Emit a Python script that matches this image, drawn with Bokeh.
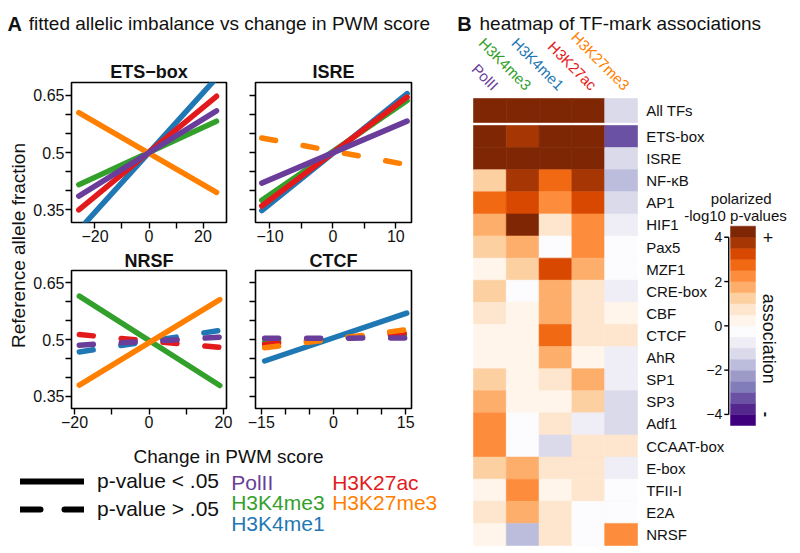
import numpy as np
from bokeh.plotting import figure
from bokeh.layouts import row, column
from bokeh.models import (Range1d, FixedTicker, CustomJSTickFormatter, ColumnDataSource, Legend, LegendItem)
from bokeh.transform import linear_cmap
from bokeh.core.properties import value
from bokeh.embed import file_html
from bokeh.resources import INLINE

FONT = "Liberation Sans"
INK = "#111111"

# ---------------- data ----------------
MARKS = ["PolII", "H3K4me3", "H3K4me1", "H3K27ac", "H3K27me3"]
MARK_COLORS = ["#6A3D9A", "#33A02C", "#1F78B4", "#E31A1C", "#FF7F00"]
DRAW_ORDER = [2, 1, 3, 4, 0]

Y_TICKS = [0.35, 0.5, 0.65]
Y_MINOR = [0.40, 0.45, 0.55, 0.60]
Y_RANGE = (0.317, 0.683)

PANEL_TITLES = ["ETS\u2212box", "ISRE", "NRSF", "CTCF"]

# fitted lines: x extent, value at start / end per mark, significance
ETS_X = [-26, 25]
ETS_START = [0.386, 0.416, 0.297, 0.350, 0.604]
ETS_END = [0.609, 0.582, 0.695, 0.647, 0.396]
ETS_SIG = [True, True, True, True, True]
ETS_XTICKS, ETS_XMINOR, ETS_XR = [-20, 0, 20], [-10, 10], (-28.7, 28.7)

ISRE_X = [-11.3, 11.8]
ISRE_START = [0.420, 0.375, 0.348, 0.360, 0.538]
ISRE_END = [0.582, 0.636, 0.654, 0.645, 0.468]
ISRE_SIG = [True, True, True, True, False]
ISRE_XTICKS, ISRE_XMINOR, ISRE_XR = [-10, 0, 10], [-5, 5], (-12.3, 12.5)

NRSF_X = [-18.7, 19.0]
NRSF_START = [0.485, 0.615, 0.467, 0.513, 0.379]
NRSF_END = [0.506, 0.378, 0.524, 0.479, 0.606]
NRSF_SIG = [False, True, False, False, True]
NRSF_XTICKS, NRSF_XMINOR, NRSF_XR = [-20, 0, 20], [-10, 10], (-20.8, 20.8)

CTCF_X = [-14.3, 15.2]
CTCF_START = [0.503, 0.493, 0.443, 0.487, 0.478]
CTCF_END = [0.504, 0.513, 0.570, 0.518, 0.526]
CTCF_SIG = [False, False, True, False, False]
CTCF_XTICKS, CTCF_XMINOR, CTCF_XR = [-15, 0, 15], [-10, -5, 5, 10], (-16.2, 16.2)

# heatmap
ROWS = ["All TFs", "ETS-box", "ISRE", "NF-κB", "AP1", "HIF1", "Pax5", "MZF1", "CRE-box", "CBF",
        "CTCF", "AhR", "SP1", "SP3", "Adf1", "CCAAT-box", "E-box", "TFII-I", "E2A", "NRSF"]
POLII_VALS = [4.25, 4.25, 4.25, 1.25, 2.75, 1.75, 1.25, 0.25, 1.25, 0.75,
              0.25, 0.25, 1.25, 1.75, 2.25, 2.25, 1.25, 0.25, 0.75, 0.25]
H3K4ME3_VALS = [4.25, 3.75, 4.25, 3.75, 3.25, 4.25, 1.75, 1.25, -0.25, 0.25,
                0.25, 0.25, 0.25, 0.25, -0.25, -0.25, 1.75, 2.25, 1.75, -1.75]
H3K4ME1_VALS = [4.25, 4.25, 4.25, 2.75, 2.25, 0.75, -0.25, 3.25, 1.75, 1.75,
                2.75, 1.75, 0.75, 0.25, 0.75, -1.25, 0.75, 0.25, 0.75, 0.75]
H3K27AC_VALS = [4.25, 4.25, 4.25, 3.75, 3.25, 2.25, 2.25, 1.75, 0.75, 0.75,
                0.75, 0.25, 1.75, 1.25, -0.75, 0.75, 0.75, 0.75, -0.25, -0.25]
H3K27ME3_VALS = [-1.25, -3.25, -1.25, -1.75, -1.25, -0.75, -0.25, -0.25, -0.75, 0.25,
                 0.75, -0.75, -0.75, -1.25, -1.25, 0.75, -0.75, -0.25, -0.25, 2.25]
HEAT_COLUMNS = [POLII_VALS, H3K4ME3_VALS, H3K4ME1_VALS, H3K27AC_VALS, H3K27ME3_VALS]

PALETTE = ["#3F007D", "#54278F", "#6A51A3", "#807DBA", "#9E9AC8", "#BCBDDC", "#DADAEB", "#EFEDF5", "#FCFBFD",
           "#FFF5EB", "#FEE6CE", "#FDD0A2", "#FDAE6B", "#FD8D3C", "#F16913", "#D94801", "#A63603", "#7F2704"]
CB_LOW, CB_HIGH = -4.5, 4.5
CB_TICKS = [-4, -2, 0, 2, 4]
CB_TICK_LABELS = ["\u22124", "\u22122", "0", "2", "4"]


# ---------------- helpers ----------------
def blank(w, h):
    p = figure(width=w, height=h, x_range=Range1d(0, w), y_range=Range1d(0, h), toolbar_location=None,
               output_backend="svg", x_axis_location=None, y_axis_location=None, min_border=0, title=None)
    p.grid.visible = False
    p.outline_line_color = None
    return p


def subplot(title, xr, xticks, xminor, xs, starts, ends, sig, bl, br, bt, fh, bb, ylabels, standoff):
    fw = 156
    p = figure(width=bl + fw + br, height=bt + fh + bb, x_range=Range1d(*xr), y_range=Range1d(*Y_RANGE),
               toolbar_location=None, output_backend="svg", title=title,
               min_border_left=bl, min_border_right=br, min_border_top=bt, min_border_bottom=bb)
    p.title.align = "center"
    p.title.text_font = FONT
    p.title.text_font_size = "18px"
    p.title.text_font_style = "bold"
    p.title.text_color = INK
    p.title.standoff = standoff
    p.xgrid.visible = False
    p.ygrid.visible = False
    p.outline_line_color = "black"
    p.outline_line_width = 1.6
    for ax in (p.xaxis[0], p.yaxis[0]):
        ax.axis_line_color = None
        ax.major_tick_in = 0
        ax.major_tick_out = 6
        ax.minor_tick_in = 0
        ax.minor_tick_out = 6
        ax.major_tick_line_color = "black"
        ax.minor_tick_line_color = "black"
        ax.major_tick_line_width = 1.4
        ax.minor_tick_line_width = 1.4
        ax.major_label_text_font = FONT
        ax.major_label_text_font_size = "16px"
        ax.major_label_text_color = INK
        ax.major_label_standoff = 1
    p.xaxis[0].ticker = FixedTicker(ticks=xticks, minor_ticks=xminor)
    p.xaxis[0].formatter = CustomJSTickFormatter(
        code="return tick < 0 ? '\\u2212' + Math.abs(tick) : String(tick);")
    p.yaxis[0].ticker = FixedTicker(ticks=Y_TICKS, minor_ticks=Y_MINOR)
    if ylabels:
        p.yaxis[0].formatter = CustomJSTickFormatter(code="return String(Math.round(tick*100)/100);")
    else:
        p.yaxis[0].formatter = CustomJSTickFormatter(code="return '';")
    for i in DRAW_ORDER:
        p.line(xs, [starts[i], ends[i]], line_color=MARK_COLORS[i], line_width=5.5, line_cap="round",
               line_dash="solid" if sig[i] else "14 28")
    return p


# ---------------- panel A ----------------
ets = subplot(PANEL_TITLES[0], ETS_XR, ETS_XTICKS, ETS_XMINOR, ETS_X, ETS_START, ETS_END, ETS_SIG,
              40, 10, 32, 140, 26, True, 2)
isre = subplot(PANEL_TITLES[1], ISRE_XR, ISRE_XTICKS, ISRE_XMINOR, ISRE_X, ISRE_START, ISRE_END, ISRE_SIG,
               19, 37, 32, 140, 26, False, 2)
nrsf = subplot(PANEL_TITLES[2], NRSF_XR, NRSF_XTICKS, NRSF_XMINOR, NRSF_X, NRSF_START, NRSF_END, NRSF_SIG,
               40, 10, 22, 138, 32, True, 0)
ctcf = subplot(PANEL_TITLES[3], CTCF_XR, CTCF_XTICKS, CTCF_XMINOR, CTCF_X, CTCF_START, CTCF_END, CTCF_SIG,
               19, 37, 22, 138, 32, False, 0)

# title A  (y measured upward from the bottom of the strip)
tA = blank(448, 50)
tA.text(x=[7], y=[50 - 23.3], text=["A"], text_font=value(FONT), text_font_style="bold",
        text_font_size="20px", text_baseline="alphabetic", text_color=INK)
tA.text(x=[28.3], y=[50 - 23.3], text=["fitted allelic imbalance vs change in PWM score"], text_font=value(FONT),
        text_font_size="19px", text_baseline="alphabetic", text_color=INK)

# y label
ylab = blank(30, 390)
ylab.text(x=[17.5], y=[390 - 195], text=["Reference allele fraction"], angle=np.pi / 2, text_font=value(FONT),
          text_font_size="19px", text_align="center", text_baseline="middle", text_color=INK)

# bottom: x label and legends
BOT_H = 113
bot = blank(448, BOT_H)
bot.text(x=[228], y=[BOT_H - 15.5], text=["Change in PWM score"], text_font=value(FONT), text_font_size="19px",
         text_align="center", text_baseline="alphabetic", text_color=INK)
nan2 = np.array([np.nan, np.nan])
r_solid = bot.line(x=nan2, y=nan2, line_color="black", line_width=6, line_cap="round")
r_dash = bot.line(x=nan2, y=nan2, line_color="black", line_width=6, line_cap="round", line_dash="20 24")
legend = Legend(items=[LegendItem(label="p-value < .05", renderers=[r_solid]),
                       LegendItem(label="p-value > .05", renderers=[r_dash])],
                location=(20, 32), orientation="vertical", glyph_width=64, glyph_height=24,
                label_height=24, label_standoff=13, spacing=4, padding=0, margin=0,
                border_line_color=None, background_fill_alpha=0,
                label_text_font=FONT, label_text_font_size="21px", label_text_color=INK)
bot.add_layout(legend)
key_col = [0, 0, 0, 1, 1]
key_row = [0, 1, 2, 0, 1]
key_src = ColumnDataSource(dict(x=[230.7 + 101 * c for c in key_col],
                                y=[BOT_H - (41.7 + 20.5 * r) for r in key_row],
                                text=MARKS, color=MARK_COLORS))
bot.text(x="x", y="y", text="text", text_color="color", source=key_src, text_font=value(FONT),
         text_font_size="21px", text_baseline="alphabetic")

# ---------------- panel B heatmap ----------------
HEAT_LEFT_PX, HEAT_TOP_PX, HEAT_BOTTOM_PX = 473, 98, 545
COL_PX = 32.8
GAP, ALL_H = 0.136, 1.085
TOP = GAP + ALL_H
NROW = len(ROWS) - 1
ROW_PX = (HEAT_BOTTOM_PX - HEAT_TOP_PX) / (NROW + TOP)


def hx(page_x):
    return (page_x - HEAT_LEFT_PX) / COL_PX


def hy(page_y):
    return TOP - (page_y - HEAT_TOP_PX) / ROW_PX


heat = figure(width=352, height=553, x_range=Range1d(hx(448), hx(800)), y_range=Range1d(hy(553), hy(0)),
              toolbar_location=None, output_backend="svg", x_axis_location=None, y_axis_location=None,
              title=None, min_border=0)
heat.grid.visible = False
heat.outline_line_color = None

row_center = [GAP + ALL_H / 2] + [-(i + 0.5) for i in range(NROW)]
row_height = [ALL_H] + [1.0] * NROW
cx, cy, ch, cv = [], [], [], []
for j, col in enumerate(HEAT_COLUMNS):
    for i, v in enumerate(col):
        cx.append(j + 0.5)
        cy.append(row_center[i])
        ch.append(row_height[i])
        cv.append(v)
heat_src = ColumnDataSource(dict(x=cx, y=cy, h=ch, v=cv))
heat.rect(x="x", y="y", width=1, height="h", source=heat_src,
          fill_color=linear_cmap("v", PALETTE, CB_LOW, CB_HIGH),
          line_color=linear_cmap("v", PALETTE, CB_LOW, CB_HIGH), line_width=0.6)

heat.text(x=[len(MARKS)] * len(ROWS), y=row_center, text=ROWS, x_offset=8.7, text_font=value(FONT),
          text_font_size="15px", text_baseline="middle", text_color=INK)

col_src = ColumnDataSource(dict(x=[j + 0.5 + 6 / COL_PX for j in range(len(MARKS))],
                                y=[hy(87)] * len(MARKS), text=MARKS, color=MARK_COLORS))
heat.text(x="x", y="y", text="text", text_color="color", source=col_src, angle=-np.pi / 4,
          text_align="right", text_baseline="middle", text_font=value(FONT), text_font_size="15px")

heat.text(x=[hx(456.7)], y=[hy(23.3)], text=["B"], text_font=value(FONT), text_font_style="bold",
          text_font_size="20px", text_baseline="alphabetic", text_color=INK)
heat.text(x=[hx(479)], y=[hy(23.3)], text=["heatmap of TF-mark associations"], text_font=value(FONT),
          text_font_size="19px", text_baseline="alphabetic", text_color=INK)

# colour bar in its own coordinate system
cb = heat.subplot(x_source=Range1d(0, 1), y_source=Range1d(CB_LOW, CB_HIGH),
                  x_target=Range1d(hx(730), hx(755)), y_target=Range1d(hy(425), hy(225.7)))
edges = np.linspace(CB_LOW, CB_HIGH, len(PALETTE) + 1)
cb.quad(left=0, right=1, bottom=list(edges[:-1]), top=list(edges[1:]), fill_color=PALETTE,
        line_color=PALETTE, line_width=0.5)
cb.segment(x0=[-0.07], y0=[min(CB_TICKS)], x1=[-0.07], y1=[max(CB_TICKS)], line_color="black", line_width=1.4)
cb.segment(x0=[-0.07] * len(CB_TICKS), y0=CB_TICKS, x1=[-0.25] * len(CB_TICKS), y1=CB_TICKS,
           line_color="black", line_width=1.4)
cb.text(x=[-0.25] * len(CB_TICKS), y=CB_TICKS, text=CB_TICK_LABELS, x_offset=-2, text_align="right",
        text_baseline="middle", text_font=value(FONT), text_font_size="14px", text_color=INK)
cb.text(x=[0.43, 0.2], y=[5.74, 4.98], text=["polarized", "-log10 p-values"], text_align="center",
        text_baseline="alphabetic", text_font=value(FONT), text_font_size="15px", text_color=INK)
cb.text(x=[1.5], y=[max(CB_TICKS)], text=["+"], text_align="center", text_baseline="middle",
        text_font=value(FONT), text_font_size="18px", text_color=INK)
cb.text(x=[1.47], y=[min(CB_TICKS)], text=["-"], angle=-np.pi / 2, text_align="center", text_baseline="middle",
        text_font=value(FONT), text_font_size="16px", text_font_style="bold", text_color=INK)
cb.text(x=[1.53], y=[-0.58], text=["association"], angle=-np.pi / 2, text_align="center",
        text_baseline="middle", text_font=value(FONT), text_font_size="18px", text_color=INK)

# ---------------- layout ----------------
grid = column(row(ets, isre), row(nrsf, ctcf))
left = column(tA, row(ylab, grid), bot)
layout = row(left, heat)

open("out.html", "w").write(file_html(layout, INLINE))
